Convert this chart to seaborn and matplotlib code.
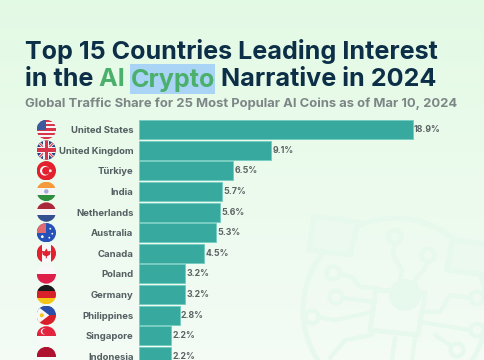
import matplotlib
matplotlib.use("Agg")
import matplotlib.pyplot as plt
from matplotlib.patches import Circle, Rectangle, Polygon
import numpy as np
import pandas as pd
import seaborn as sns

countries = ["United States", "United Kingdom", "Türkiye", "India", "Netherlands", "Australia",
             "Canada", "Poland", "Germany", "Philippines", "Singapore", "Indonesia"]
share = [18.9, 9.1, 6.5, 5.7, 5.6, 5.3, 4.5, 3.2, 3.2, 2.8, 2.2, 2.2]

W, H = 485, 360
BAR_LEFT = 139
ROW_TOP = 129.5  # middle of first bar, px
ROW_STEP = 20.64
PX_PER_UNIT = 14.48

sns.set_theme(style="white")
plt.rcParams["font.family"] = ["Inter", "DejaVu Sans"]

df = pd.DataFrame({"country": countries, "share": share})

fig = plt.figure(figsize=(W / 100, H / 100), dpi=100)

# background gradient
bg = fig.add_axes([0, 0, 1, 1], zorder=0)
grad = np.linspace(0, 1, 256).reshape(-1, 1, 1)
top_col = np.array([0.890, 0.980, 0.895])
bot_col = np.array([0.955, 0.985, 0.960])
bg.imshow(top_col + (bot_col - top_col) * grad, aspect="auto", extent=[0, W, H, 0])
bg.set_xlim(0, W)
bg.set_ylim(H, 0)
bg.axis("off")

# faint circuit watermark behind the bars
wm = "#e7f8ec"
bg.add_patch(Circle((395, 310), 92, fill=False, ec=wm, lw=3.5))
bg.add_patch(Polygon([[314, 216], [358, 222], [350, 255], [309, 250]], closed=True, fc="#ecf9ee", ec=wm, lw=3.5))
bg.add_patch(Polygon([[452, 240], [490, 245], [485, 275], [447, 270]], closed=True, fc="#ecf9ee", ec=wm, lw=3.5))
bg.add_patch(Polygon([[376, 290], [425, 293], [418, 335], [370, 330]], closed=True, fc="#f2fbf3", ec=wm, lw=3.5))
bg.add_patch(Circle((405, 295), 16, fc=wm, ec="none"))
for cx, cy in [(395, 237), (428, 255), (333, 273), (336, 297), (312, 317), (477, 298), (477, 330), (457, 350)]:
    bg.add_patch(Circle((cx, cy), 6.5, fill=False, ec=wm, lw=3))
for xs, ys in [
    ([395, 393, 402, 399], [243, 255, 270, 285]),
    ([428, 424, 416, 414], [261, 270, 278, 285]),
    ([340, 352, 360, 378], [274, 277, 287, 288]),
    ([343, 375], [298, 302]),
    ([318, 335, 372], [317, 320, 312]),
    ([425, 440, 450, 470], [312, 312, 295, 298]),
    ([420, 470], [322, 330]),
    ([330, 345, 372], [358, 340, 335]),
    ([395, 392], [338, 360]),
    ([415, 412], [338, 360]),
    ([435, 450], [335, 345]),
]:
    bg.plot(xs, ys, color=wm, lw=3, solid_capstyle="round")

# bars
ax = fig.add_axes([BAR_LEFT / W, 0, (W - BAR_LEFT) / W, (H - 119) / H], zorder=2)
ax.patch.set_alpha(0)
sns.barplot(data=df, x="share", y="country", ax=ax, color="#37a99f", saturation=1,
            width=0.92, edgecolor="#78cdc3", linewidth=0.7)
ax.set_xlim(0, (W - BAR_LEFT) / PX_PER_UNIT)
ax.set_ylim((H - ROW_TOP) / ROW_STEP, -(ROW_TOP - 119) / ROW_STEP)
sns.despine(ax=ax, left=True, bottom=True)
ax.set_xlabel("")
ax.set_ylabel("")
ax.set_xticks([])
ax.tick_params(axis="y", length=0, pad=4)
for lab in ax.get_yticklabels():
    lab.set_fontsize(6.85)
    lab.set_fontweight("bold")
    lab.set_color("#545f62")
ax.bar_label(ax.containers[0], fmt="%.1f%%", padding=1, fontsize=6.3, fontweight="bold", color="#5b6264")


# flags
fl = fig.add_axes([0, 0, 1, 1], zorder=3)
fl.set_xlim(0, W)
fl.set_ylim(H, 0)
fl.axis("off")
FX, FR = 46.3, 9.7


def hstripes(y, cols):
    h = 2 * FR / len(cols)
    return [Rectangle((FX - FR, y - FR + i * h), 2 * FR, h, fc=c, ec="none") for i, c in enumerate(cols)]


def flag_shapes(name, y):
    if name == "United States":
        cols = ["#d8344a" if i % 2 == 0 else "#f5f5f5" for i in range(9)]
        return hstripes(y, cols) + [Rectangle((FX - FR, y - FR), FR, FR, fc="#3c5a9e", ec="none")]
    if name == "United Kingdom":
        out = [Rectangle((FX - FR, y - FR), 2 * FR, 2 * FR, fc="#27407f", ec="none")]
        for s in (1, -1):
            out.append(Polygon([[FX - FR, y - s * FR + s * 2], [FX - FR + 2, y - s * FR], [FX + FR, y + s * FR - s * 2],
                                [FX + FR - 2, y + s * FR]], closed=True, fc="#f5f5f5", ec="none"))
            out.append(Polygon([[FX - FR, y - s * FR + s * 0.8], [FX - FR + 0.8, y - s * FR], [FX + FR, y + s * FR - s * 0.8],
                                [FX + FR - 0.8, y + s * FR]], closed=True, fc="#d8344a", ec="none"))
        out.append(Rectangle((FX - 3, y - FR), 6, 2 * FR, fc="#f5f5f5", ec="none"))
        out.append(Rectangle((FX - FR, y - 3), 2 * FR, 6, fc="#f5f5f5", ec="none"))
        out.append(Rectangle((FX - 1.7, y - FR), 3.4, 2 * FR, fc="#d8344a", ec="none"))
        out.append(Rectangle((FX - FR, y - 1.7), 2 * FR, 3.4, fc="#d8344a", ec="none"))
        return out
    if name == "Türkiye":
        return [Rectangle((FX - FR, y - FR), 2 * FR, 2 * FR, fc="#e3202e", ec="none"),
                Circle((FX - 1.5, y), 4.8, fc="#ffffff", ec="none"),
                Circle((FX - 0.3, y), 3.9, fc="#e3202e", ec="none"),
                Circle((FX + 4, y), 1.4, fc="#ffffff", ec="none")]
    if name == "India":
        return hstripes(y, ["#f59a3a", "#f5f5f5", "#2f8f3e"]) + [Circle((FX, y), 2.2, fc="#a9a9d8", ec="none")]
    if name == "Netherlands":
        return hstripes(y, ["#a9293a", "#f5f5f5", "#34508f"])
    if name == "Australia":
        return [Rectangle((FX - FR, y - FR), 2 * FR, 2 * FR, fc="#2551b8", ec="none"),
                Rectangle((FX - FR, y - FR), FR, FR, fc="#e06a70", ec="none"),
                Circle((FX + 4, y - 4), 0.9, fc="#ffffff", ec="none"),
                Circle((FX + 6, y + 1), 0.9, fc="#ffffff", ec="none"),
                Circle((FX + 3, y + 5), 0.9, fc="#ffffff", ec="none"),
                Circle((FX - 4, y + 4), 1.4, fc="#ffffff", ec="none")]
    if name == "Canada":
        return [Rectangle((FX - FR, y - FR), 2 * FR, 2 * FR, fc="#f8f8f8", ec="none"),
                Rectangle((FX - FR, y - FR), 5, 2 * FR, fc="#e3202e", ec="none"),
                Rectangle((FX + FR - 5, y - FR), 5, 2 * FR, fc="#e3202e", ec="none"),
                Polygon([[FX, y - 5], [FX + 1.5, y - 2], [FX + 4.5, y - 2.5], [FX + 3.5, y + 1.5], [FX + 0.5, y + 3],
                         [FX + 0.5, y + 5], [FX - 0.5, y + 5], [FX - 0.5, y + 3], [FX - 3.5, y + 1.5], [FX - 4.5, y - 2.5],
                         [FX - 1.5, y - 2]], closed=True, fc="#e3202e", ec="none")]
    if name == "Poland":
        return hstripes(y, ["#f8f8f8", "#dd1f49"])
    if name == "Germany":
        return hstripes(y, ["#1a1a1a", "#d8202a", "#f5c518"])
    if name == "Philippines":
        return hstripes(y, ["#2b4fa8", "#d8202a"]) + [
            Polygon([[FX - FR, y - FR], [FX + 3, y], [FX - FR, y + FR]], closed=True, fc="#f8f8f8", ec="none"),
            Circle((FX - 4.5, y), 2, fc="#f5c518", ec="none")]
    if name == "Singapore":
        return hstripes(y, ["#e3233e", "#f8f8f8"]) + [Circle((FX - 2.5, y - 4.5), 3, fc="#f8f8f8", ec="none"),
                                                     Circle((FX - 1.3, y - 4.5), 2.8, fc="#e3233e", ec="none")]
    return hstripes(y, ["#b01030", "#f8f8f8"])


for i, name in enumerate(countries):
    yc = ROW_TOP + i * ROW_STEP
    clip = Circle((FX, yc), FR, transform=fl.transData)
    for shp in flag_shapes(name, yc):
        fl.add_patch(shp)
        shp.set_clip_path(clip)

# title
navy = "#0c2f47"
green = "#4bb06c"
TS = 18.1
fl.text(25, 51, "Top 15 Countries Leading Interest", fontsize=TS, fontweight="bold", color=navy, va="center")
fig.canvas.draw()
rend = fig.canvas.get_renderer()
x = 25
for part, col in [("in the ", navy), ("AI ", green), ("Crypto", green), (" Narrative in 2024", navy)]:
    t = fl.text(x, 80, part, fontsize=TS, fontweight="bold", color=col, va="center", zorder=5)
    wid = t.get_window_extent(rend).width
    # trailing spaces are not always measured, so use a marker width
    if part.endswith(" ") or part.startswith(" "):
        probe = fl.text(0, 0, "x" + part + "x", fontsize=TS, fontweight="bold")
        xp = fl.text(0, 0, "xx", fontsize=TS, fontweight="bold")
        wid = probe.get_window_extent(rend).width - xp.get_window_extent(rend).width
        probe.remove()
        xp.remove()
    if part == "Crypto":
        fl.add_patch(Rectangle((x - 1, 64), wid + 1, 30, fc="#a9d4f5", ec="none", zorder=4))
    x += wid
fl.text(25, 104, "Global Traffic Share for 25 Most Popular AI Coins as of Mar 10, 2024", fontsize=9.35,
        fontweight="bold", color="#7d8586", va="center")

fig.savefig("out.png", dpi=100)
